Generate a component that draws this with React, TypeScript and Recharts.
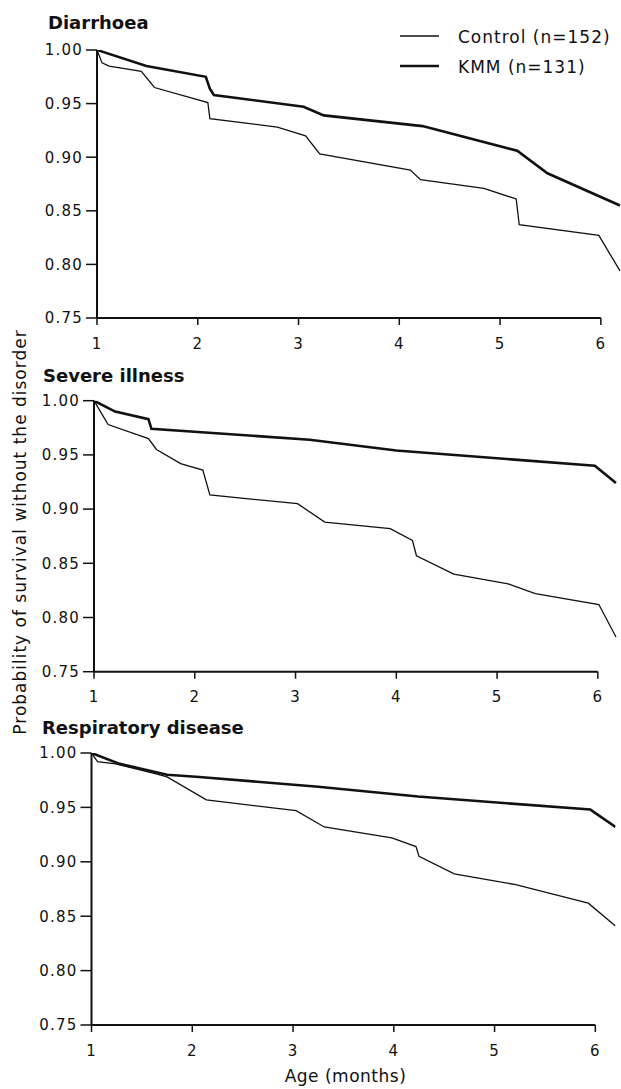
import React from 'react';
import { Line, LineChart, ReferenceLine, XAxis, YAxis } from 'recharts';

// months since birth (x) and survival probability (y)
const diarrhoeaControlX = [1, 1.05, 1.12, 1.44, 1.57, 2.10, 2.12, 2.79, 3.07, 3.21, 4.11, 4.21, 4.84, 5.16, 5.19, 5.98, 6.19];
const diarrhoeaControlY = [1.0, 0.988, 0.985, 0.980, 0.965, 0.951, 0.936, 0.928, 0.920, 0.903, 0.888, 0.879, 0.871, 0.861, 0.837, 0.827, 0.794];
const diarrhoeaKmmX = [1, 1.49, 2.08, 2.12, 2.16, 3.05, 3.25, 4.23, 5.17, 5.47, 6.19];
const diarrhoeaKmmY = [1.0, 0.985, 0.975, 0.964, 0.958, 0.947, 0.939, 0.929, 0.906, 0.885, 0.855];

const severeControlX = [1, 1.14, 1.54, 1.62, 1.86, 2.08, 2.15, 3.02, 3.29, 3.94, 4.16, 4.20, 4.57, 5.11, 5.38, 6.01, 6.18];
const severeControlY = [1.0, 0.978, 0.965, 0.955, 0.942, 0.936, 0.913, 0.905, 0.888, 0.882, 0.871, 0.857, 0.840, 0.831, 0.822, 0.812, 0.782];
const severeKmmX = [1, 1.21, 1.54, 1.57, 3.14, 4.0, 5.97, 6.18];
const severeKmmY = [1.0, 0.990, 0.983, 0.974, 0.964, 0.954, 0.940, 0.924];

const respControlX = [1, 1.06, 1.24, 1.63, 1.75, 2.14, 3.03, 3.31, 3.98, 4.22, 4.25, 4.60, 5.21, 5.55, 5.93, 6.20];
const respControlY = [1.0, 0.992, 0.990, 0.981, 0.978, 0.957, 0.947, 0.932, 0.922, 0.914, 0.905, 0.889, 0.879, 0.871, 0.862, 0.841];
const respKmmX = [1, 1.28, 1.61, 1.75, 2.07, 3.25, 4.24, 5.95, 6.20];
const respKmmY = [1.0, 0.990, 0.983, 0.980, 0.978, 0.969, 0.960, 0.948, 0.932];

const xTicks = [1, 2, 3, 4, 5, 6];
const yTicks = [0.75, 0.8, 0.85, 0.9, 0.95, 1.0];

const INK = '#111';
const FONT = '"DejaVu Sans", sans-serif';

const toPoints = (xs: number[], ys: number[]) => xs.map((x, i) => ({ x, y: ys[i] }));

interface PanelProps {
  control: { x: number, y: number }[],
  kmm: { x: number, y: number }[],
  top: number,
  height: number,
  margin: { top: number, right: number, left: number, bottom: number },
  axisWidth: number,
}

function Panel(props: PanelProps) {
  const { control, kmm, top, height, margin, axisWidth } = props;
  const tickStyle = { fontSize: 15, fill: INK, fontFamily: FONT, letterSpacing: 1.2 };

  return (
    <div style={{ position: 'absolute', left: 0, top, width: 621, height }}>
      <LineChart width={621} height={height} margin={margin}>
        <XAxis
          type="number"
          dataKey="x"
          domain={[1, 6.2]}
          ticks={xTicks}
          allowDataOverflow
          axisLine={false}
          tickLine={{ stroke: INK, strokeWidth: 1.5 }}
          tickSize={7}
          tickMargin={13}
          height={30}
          tick={tickStyle}
        />
        <YAxis
          type="number"
          domain={[0.75, 1]}
          ticks={yTicks}
          allowDataOverflow
          width={axisWidth}
          axisLine={{ stroke: INK, strokeWidth: 2 }}
          tickLine={{ stroke: INK, strokeWidth: 1.5 }}
          tickSize={11}
          tickMargin={3}
          tickFormatter={(v: number) => v.toFixed(2)}
          tick={tickStyle}
        />
        <ReferenceLine segment={[{ x: 1, y: 0.75 }, { x: 6, y: 0.75 }]} stroke={INK} strokeWidth={2} />
        <Line data={control} dataKey="y" type="linear" dot={false} stroke={INK} strokeWidth={1.3} isAnimationActive={false} />
        <Line data={kmm} dataKey="y" type="linear" dot={false} stroke={INK} strokeWidth={2.6} isAnimationActive={false} />
      </LineChart>
    </div>
  );
}

export default function App() {
  return (
    <div style={{ position: 'absolute', left: 0, top: 0, width: 621, height: 1089, background: '#fff' }}>
      <Panel
        control={toPoints(diarrhoeaControlX, diarrhoeaControlY)}
        kmm={toPoints(diarrhoeaKmmX, diarrhoeaKmmY)}
        top={0}
        height={360}
        margin={{ top: 50, right: 0, left: 0, bottom: 12 }}
        axisWidth={97}
      />
      <Panel
        control={toPoints(severeControlX, severeControlY)}
        kmm={toPoints(severeKmmX, severeKmmY)}
        top={360}
        height={360}
        margin={{ top: 40.7, right: 3, left: 0, bottom: 18.3 }}
        axisWidth={94}
      />
      <Panel
        control={toPoints(respControlX, respControlY)}
        kmm={toPoints(respKmmX, respKmmY)}
        top={720}
        height={369}
        margin={{ top: 33, right: 5.5, left: 0, bottom: 34 }}
        axisWidth={91.5}
      />
      <svg width={621} height={1089} style={{ position: 'absolute', left: 0, top: 0, pointerEvents: 'none' }}>
        <g fontFamily={FONT} fill={INK}>
          <text x={48} y={29.3} fontSize={18} fontWeight="bold">Diarrhoea</text>
          <text x={43} y={381.7} fontSize={18} fontWeight="bold">Severe illness</text>
          <text x={42} y={734} fontSize={18} fontWeight="bold">Respiratory disease</text>

          <line x1={400} x2={439} y1={36} y2={36} stroke={INK} strokeWidth={1.3} />
          <text x={458} y={42.5} fontSize={17} letterSpacing={1}>Control (n=152)</text>
          <line x1={400} x2={439} y1={66} y2={66} stroke={INK} strokeWidth={2.6} />
          <text x={458} y={72.5} fontSize={17} letterSpacing={1}>KMM (n=131)</text>

          <text x={25.5} y={532} fontSize={17} letterSpacing={1} textAnchor="middle" transform="rotate(-90 25.5 532)">
            Probability of survival without the disorder
          </text>
          <text x={345.5} y={1081.7} fontSize={17} letterSpacing={0.5} textAnchor="middle">Age (months)</text>
        </g>
      </svg>
    </div>
  );
}
